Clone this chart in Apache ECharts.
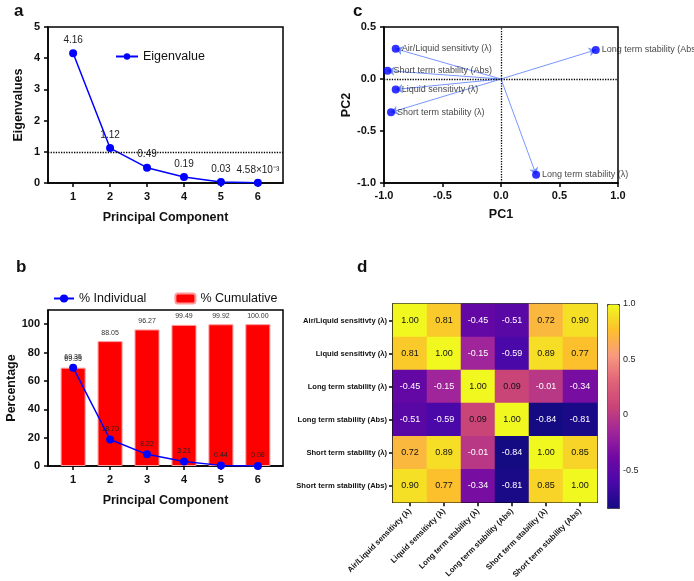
<!DOCTYPE html>
<html>
<head>
<meta charset="utf-8">
<script src="https://cdn.jsdelivr.net/npm/echarts@6/dist/echarts.min.js"></script>
<style>
  html, body { margin: 0; padding: 0; background: #fff; }
  #chartmain { width: 694px; height: 581px; }
</style>
</head>
<body>
<div id="chartmain"></div>
<script>
// panel a / b data
var pcs = [1, 2, 3, 4, 5, 6];
var eigenvalues = [4.16, 1.12, 0.49, 0.19, 0.03, 0.00458];
var eigenLabels = ['4.16', '1.12', '0.49', '0.19', '0.03', '4.58×10⁻³'];
var pctIndividual = [69.35, 18.70, 8.22, 3.21, 0.44, 0.08];
var pctCumulative = [69.35, 88.05, 96.27, 99.49, 99.92, 100.00];

// panel c loadings
var loadingNames = ['Air/Liquid sensitivty (λ)', 'Short term stability (Abs)', 'Liquid sensitivty (λ)',
  'Short term stability (λ)', 'Long term stability (Abs)', 'Long term stability (λ)'];
var pc1 = [-0.90, -0.97, -0.90, -0.94, 0.81, 0.30];
var pc2 = [0.29, 0.08, -0.10, -0.32, 0.28, -0.92];

// panel d correlation matrix
var corrVars = ['Air/Liquid sensitivty (λ)', 'Liquid sensitivty (λ)', 'Long term stability (λ)',
  'Long term stability (Abs)', 'Short term stability (λ)', 'Short term stability (Abs)'];
var corrMatrix = [
  [1.00, 0.81, -0.45, -0.51, 0.72, 0.90],
  [0.81, 1.00, -0.15, -0.59, 0.89, 0.77],
  [-0.45, -0.15, 1.00, 0.09, -0.01, -0.34],
  [-0.51, -0.59, 0.09, 1.00, -0.84, -0.81],
  [0.72, 0.89, -0.01, -0.84, 1.00, 0.85],
  [0.90, 0.77, -0.34, -0.81, 0.85, 1.00]
];
var colorbarTicks = [-0.5, 0, 0.5, 1];

var FONT = 'Liberation Sans, Arial, sans-serif';

function pairs(xs, ys) {
  return xs.map(function (x, i) { return [x, ys[i]]; });
}
var heatData = [];
corrMatrix.forEach(function (row, r) {
  row.forEach(function (v, c) {
    heatData.push({ value: [c, r, v], label: { color: v < 0 ? '#fff' : '#111' } });
  });
});
var arrowData = pc1.map(function (x, i) { return { coords: [[0, 0], [x, pc2[i]]] }; });
var loadingData = pc1.map(function (x, i) { return { value: [x, pc2[i]], name: loadingNames[i] }; });

var boldTick = { color: '#111', fontWeight: 'bold', fontSize: 11, fontFamily: FONT };
var axisNameStyle = { color: '#111', fontWeight: 'bold', fontSize: 12.5, fontFamily: FONT };
var blackLine = { show: true, lineStyle: { color: '#000', width: 1.5 } };
var outTick = { show: true, length: 4, lineStyle: { color: '#000', width: 1.5 } };

function pcAxis(idx, gap) {
  return {
    gridIndex: idx, type: 'value', min: 0.32, max: 6.68,
    name: 'Principal Component', nameLocation: 'middle', nameGap: gap, nameTextStyle: axisNameStyle,
    axisLine: blackLine, splitLine: { show: false },
    axisTick: { show: true, length: 4, lineStyle: { color: '#000', width: 1.5 }, customValues: pcs },
    axisLabel: { color: '#111', fontWeight: 'bold', fontSize: 11, fontFamily: FONT, margin: 8, customValues: pcs }
  };
}

var option = {
  animation: false,
  textStyle: { fontFamily: FONT },
  title: [
    { text: 'a', left: 9, top: -2, textStyle: { fontSize: 17, fontWeight: 'bold', color: '#111' } },
    { text: 'b', left: 11, top: 254, textStyle: { fontSize: 17, fontWeight: 'bold', color: '#111' } },
    { text: 'c', left: 348, top: -2, textStyle: { fontSize: 17, fontWeight: 'bold', color: '#111' } },
    { text: 'd', left: 352, top: 254, textStyle: { fontSize: 17, fontWeight: 'bold', color: '#111' } }
  ],
  legend: [
    { data: ['Eigenvalue'], left: 110, top: 45, itemWidth: 22, itemHeight: 8,
      textStyle: { fontSize: 12.5, color: '#111' } },
    { data: ['% Individual', '% Cumulative'], left: 48, top: 287, itemWidth: 20, itemHeight: 10, itemGap: 28,
      textStyle: { fontSize: 12.5, color: '#111' } }
  ],
  grid: [
    { left: 48, top: 27, width: 235, height: 156, show: true, borderColor: '#000', borderWidth: 1.5 },
    { left: 48, top: 310, width: 235, height: 156, show: true, borderColor: '#000', borderWidth: 1.5 },
    { left: 384, top: 27, width: 234, height: 156, show: true, borderColor: '#000', borderWidth: 1.5 },
    { left: 393, top: 304, width: 204, height: 204, show: true, borderColor: '#000', borderWidth: 1.5 },
    { left: 607, top: 304, width: 12, height: 204 }
  ],
  xAxis: [
    pcAxis(0, 28),
    pcAxis(1, 28),
    { gridIndex: 2, type: 'value', min: -1, max: 1, interval: 0.5,
      name: 'PC1', nameLocation: 'middle', nameGap: 25, nameTextStyle: axisNameStyle,
      axisLine: { show: true, onZero: false, lineStyle: { color: '#000', width: 1.5 } },
      axisTick: outTick, splitLine: { show: false },
      axisLabel: { color: '#111', fontWeight: 'bold', fontSize: 11, margin: 7,
        formatter: function (v) { return v.toFixed(1); } } },
    { gridIndex: 3, type: 'category', data: corrVars,
      axisLine: blackLine, axisTick: { show: true, alignWithLabel: true, length: 4, lineStyle: { color: '#000', width: 1.5 } },
      axisLabel: { rotate: 45, color: '#111', fontWeight: 'bold', fontSize: 7.8, margin: 8, interval: 0 } },
    { gridIndex: 4, type: 'value', show: false, min: 0, max: 1 }
  ],
  yAxis: [
    { gridIndex: 0, type: 'value', min: 0, max: 5, interval: 1,
      name: 'Eigenvalues', nameLocation: 'middle', nameGap: 23, nameTextStyle: axisNameStyle,
      axisLine: blackLine, axisTick: outTick, splitLine: { show: false }, axisLabel: boldTick },
    { gridIndex: 1, type: 'value', min: 0, max: 110,
      name: 'Percentage', nameLocation: 'middle', nameGap: 30, nameTextStyle: axisNameStyle,
      axisLine: blackLine, splitLine: { show: false },
      axisTick: { show: true, length: 4, lineStyle: { color: '#000', width: 1.5 }, customValues: [0, 20, 40, 60, 80, 100] },
      axisLabel: { color: '#111', fontWeight: 'bold', fontSize: 11, customValues: [0, 20, 40, 60, 80, 100] } },
    { gridIndex: 2, type: 'value', min: -1, max: 0.5, interval: 0.5,
      name: 'PC2', nameLocation: 'middle', nameGap: 29, nameTextStyle: axisNameStyle,
      axisLine: { show: true, onZero: false, lineStyle: { color: '#000', width: 1.5 } },
      axisTick: outTick, splitLine: { show: false },
      axisLabel: { color: '#111', fontWeight: 'bold', fontSize: 11,
        formatter: function (v) { return v.toFixed(1); } } },
    { gridIndex: 3, type: 'category', data: corrVars, inverse: true,
      axisLine: blackLine, axisTick: { show: true, alignWithLabel: true, length: 4, lineStyle: { color: '#000', width: 1.5 } },
      axisLabel: { color: '#111', fontWeight: 'bold', fontSize: 7.6, margin: 6, interval: 0 } },
    { gridIndex: 4, type: 'value', position: 'right', min: -0.84, max: 1,
      axisLine: { show: false }, splitLine: { show: false },
      axisTick: { show: true, inside: false, length: 2, lineStyle: { color: '#222', width: 1 }, customValues: [-0.5, 0, 0.5] },
      axisLabel: { color: '#222', fontSize: 9, margin: 4, customValues: colorbarTicks,
        formatter: function (v) { return v === 1 ? '1.0' : String(v); } } }
  ],
  visualMap: {
    type: 'continuous', seriesIndex: 6, min: -0.84, max: 1, calculable: false,
    left: 607, top: 304, itemWidth: 12, itemHeight: 204, padding: 0,
    borderColor: '#333', borderWidth: 1, text: null, showLabel: false,
    inRange: { color: ['#140a82', '#4808a8', '#7008a3', '#a0259a', '#c84478', '#e06478', '#f89a80', '#fcc02c', '#f0f820'] }
  },
  series: [
    { name: 'Eigenvalue', type: 'line', xAxisIndex: 0, yAxisIndex: 0, data: pairs(pcs, eigenvalues),
      symbol: 'circle', symbolSize: 8, color: '#0000ff', lineStyle: { width: 1.5 },
      label: { show: true, position: 'top', fontSize: 10, color: '#222', distance: 4,
        formatter: function (p) { return eigenLabels[p.dataIndex]; } },
      markLine: { silent: true, symbol: 'none', label: { show: false },
        lineStyle: { type: 'dotted', color: '#000', width: 1.3 }, data: [{ yAxis: 1 }] } },
    { name: '% Cumulative', type: 'bar', xAxisIndex: 1, yAxisIndex: 1, data: pairs(pcs, pctCumulative),
      barWidth: 25, itemStyle: { color: '#ff0000', borderColor: '#ff9a9a', borderWidth: 1 },
      label: { show: true, position: 'top', fontSize: 7, color: '#333', distance: 5,
        formatter: function (p) { return p.value[1].toFixed(2); } } },
    { name: '% Individual', type: 'line', xAxisIndex: 1, yAxisIndex: 1, data: pairs(pcs, pctIndividual),
      symbol: 'circle', symbolSize: 8, color: '#0000ff', lineStyle: { width: 1.5 }, z: 5,
      label: { show: true, position: 'top', fontSize: 7, color: '#222', distance: 3,
        formatter: function (p) { return p.value[1].toFixed(2); } } },
    { type: 'lines', coordinateSystem: 'cartesian2d', xAxisIndex: 2, yAxisIndex: 2, data: arrowData,
      symbol: ['none', 'arrow'], symbolSize: 7, lineStyle: { color: '#7896ff', width: 1, opacity: 1 } },
    { type: 'scatter', xAxisIndex: 2, yAxisIndex: 2, data: loadingData, symbolSize: 8, color: '#0000ff',
      label: { show: true, position: 'right', distance: 2, fontSize: 9, color: '#111',
        formatter: function (p) { return p.name; } },
      markLine: { silent: true, symbol: 'none', label: { show: false },
        lineStyle: { type: 'dotted', color: '#000', width: 1.3 }, data: [{ xAxis: 0 }, { yAxis: 0 }] } },
    { type: 'scatter', xAxisIndex: 4, yAxisIndex: 4, data: [] },
    { type: 'heatmap', xAxisIndex: 3, yAxisIndex: 3, data: heatData,
      label: { show: true, fontSize: 9,
        formatter: function (p) { return p.value[2].toFixed(2); } } }
  ]
};

var myChart = echarts.init(document.getElementById('chartmain'));
myChart.setOption(option);
</script>
</body>
</html>
